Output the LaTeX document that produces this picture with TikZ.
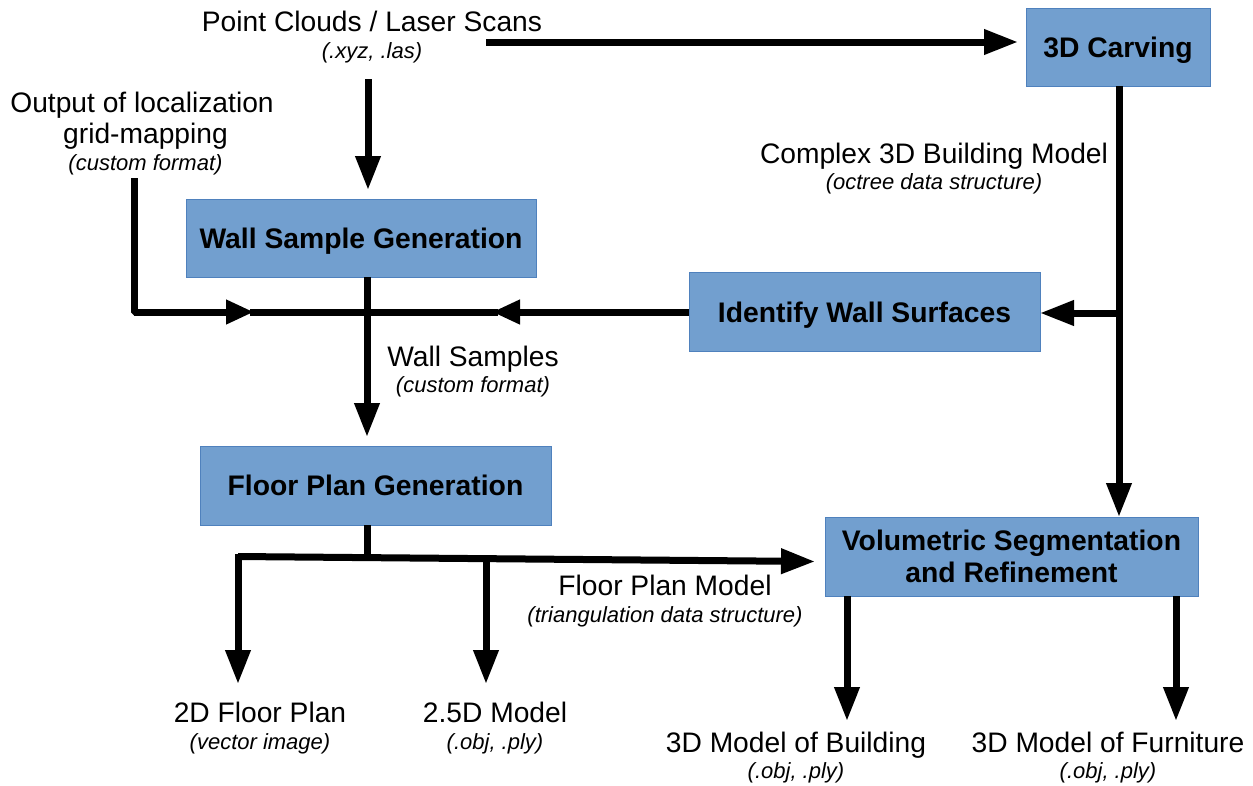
\documentclass[tikz,border=0pt]{standalone}
\usepackage{fontspec}
\setmainfont{Liberation Sans}
\usetikzlibrary{arrows.meta,calc}
\definecolor{boxfill}{HTML}{729FCF}
\definecolor{boxline}{HTML}{4F81BD}
\newcommand{\mainsize}{\fontsize{28.2}{27}\selectfont}
\newcommand{\subsize}{\fontsize{22}{27}\selectfont\itshape}
\tikzset{
  every picture/.style={x=1pt,y=-1pt},
  boxnode/.style={draw=boxline,fill=boxfill,line width=1pt,inner sep=0pt,align=center,
     font=\fontsize{28.3}{32}\selectfont\bfseries},
  oneline/.style={text height=27pt,text depth=6pt},
  lbl/.style={inner sep=0pt,align=center,anchor=base,font=\fontsize{22}{27}\selectfont},
  conn/.style={line width=7pt,draw=black},
  arr/.style={conn,-{Triangle[length=34pt,width=24pt]}},
  arrshort/.style={conn,-{Triangle[length=28pt,width=23pt]}},
}
\begin{document}
\begin{tikzpicture}
\useasboundingbox (0,0) rectangle (1253,785);
% boxes
\node[boxnode,oneline,minimum width=184pt,minimum height=78pt] (carve) at (1118,47) {3D Carving};
\node[boxnode,oneline,minimum width=350pt,minimum height=78pt] (wsg) at (361,238) {Wall Sample Generation};
\node[boxnode,oneline,minimum width=351pt,minimum height=79pt] (iws) at (864.5,311.5) {Identify Wall Surfaces};
\node[boxnode,oneline,text depth=8pt,minimum width=351pt,minimum height=79pt] (fpg) at (375.5,485.5) {Floor Plan Generation};
\node[boxnode,minimum width=373pt,minimum height=79pt] (vol) at (1011.5,556.5) {Volumetric Segmentation\\and Refinement};
% labels
\node[lbl] (pc) at (372,58) {\mainsize Point Clouds / Laser Scans\\\subsize (.xyz, .las)};
\node[lbl] (out) at (142,170) {\mainsize Output of localization\\[4pt]\mainsize\hspace*{7pt}grid-mapping\\\subsize\hspace*{7pt}(custom format)};
\node[lbl] (cbm) at (934,189) {\mainsize Complex 3D Building Model\\[-1pt]\subsize (octree data structure)};
\node[lbl] (ws) at (473,392) {\mainsize Wall Samples\\[-1pt]\subsize (custom format)};
\node[lbl] (fpm) at (665,622) {\mainsize Floor Plan Model\\\subsize (triangulation data structure)};
\node[lbl] (fp2) at (260,749) {\mainsize 2D Floor Plan\\\subsize (vector image)};
\node[lbl] (m25) at (495,749) {\mainsize 2.5D Model\\\subsize (.obj, .ply)};
\node[lbl] (m3b) at (796,778) {\mainsize 3D Model of Building\\[-1pt]\subsize (.obj, .ply)};
\node[lbl] (m3f) at (1108,778) {\mainsize 3D Model of Furniture\\[-1pt]\subsize (.obj, .ply)};
% free ends and junctions
\coordinate (pcR) at (486,42);
\coordinate (carveL) at (1018,42);
\coordinate (pcB) at (368,79);
\coordinate (wsgT) at (368,190);
\coordinate (outB) at (134,178);
\coordinate (outC) at (134,312);
\coordinate (tipA) at (254,312);
\coordinate (tipB) at (492,312);
\coordinate (wsgB) at (367,277);
\coordinate (fpgT) at (367,437);
\coordinate (fpgB) at (367,525);
\coordinate (fpgJ) at (367,558);
\coordinate (hL) at (238,556.5);
\coordinate (volL) at (815,561.5);
\coordinate (d2T) at (238,553.5);
\coordinate (d2B) at (238,684);
\coordinate (d25T) at (486,559);
\coordinate (d25B) at (486,684);
\coordinate (carveB) at (1119,86);
\coordinate (volT) at (1119,517);
\coordinate (iwsJ) at (1122,313);
\coordinate (iwsR) at (1040,313);
\coordinate (volB1) at (847,596);
\coordinate (m3bT) at (847,721);
\coordinate (volB2) at (1176,596);
\coordinate (m3fT) at (1176,721);
% connectors
\draw[conn] ($(tipA)+(-4,0)$) -- ($(tipB)+(6,0)$);
\draw[conn,line join=bevel] (outB) -- (outC) -- ++(20,0);
\draw[arrshort] (outC) -- (tipA);
\draw[arr] (pcR) -- (carveL);
\draw[arr] (pcB) -- (wsgT);
\draw[arrshort] (iws.west |- tipB) -- (tipB);
\draw[arr] (wsgB) -- (fpgT);
\draw[conn] (fpgB) -- (fpgJ);
\draw[arr] (hL) -- (volL);
\draw[arr] (d2T) -- (d2B);
\draw[arr] (d25T) -- (d25B);
\draw[arr] (carveB) -- (volT);
\draw[arr] (iwsJ) -- (iwsR);
\draw[arr] (volB1) -- (m3bT);
\draw[arr] (volB2) -- (m3fT);
\end{tikzpicture}
\end{document}
